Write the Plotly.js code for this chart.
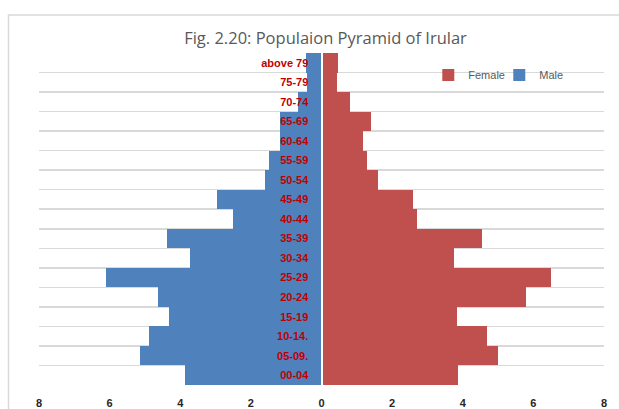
<!DOCTYPE html>
<html>
<head>
<meta charset="utf-8">
<script src="https://cdn.plot.ly/plotly-3.0.1.min.js"></script>
<style>html,body{margin:0;padding:0;background:#fff;}#chart{width:619px;height:409px;}</style>
</head>
<body>
<div id="chart"></div>
<script>
const ageGroups = ["00-04","05-09.","10-14.","15-19","20-24","25-29","30-34","35-39","40-44","45-49","50-54","55-59","60-64","65-69","70-74","75-79","above 79"];
const maleValues = [3.87,5.15,4.89,4.31,4.64,6.10,3.72,4.37,2.50,2.96,1.59,1.48,1.18,1.18,0.66,0.42,0.44];
const femaleValues = [3.86,4.99,4.70,3.83,5.78,6.49,3.75,4.55,2.71,2.60,1.61,1.29,1.18,1.40,0.81,0.44,0.48];
const xTickVals = [-8,-6,-4,-2,0,2,4,6,8];
const xTickText = ["8","6","4","2","0","2","4","6","8"];

const traces = [
  {type:'bar', orientation:'h', name:'Female', y:ageGroups, x:femaleValues,
   marker:{color:'#C0504D'}, hoverinfo:'none'},
  {type:'bar', orientation:'h', name:'Male', y:ageGroups, x:maleValues.map(v=>-v),
   marker:{color:'#4F81BD'}, hoverinfo:'none'}
];

const layout = {
  width:619, height:409,
  margin:{l:39, r:15, t:53, b:24, pad:0},
  paper_bgcolor:'#ffffff', plot_bgcolor:'#ffffff',
  barmode:'relative', bargap:0,
  showlegend:true,
  title:{text:'Fig. 2.20: Populaion Pyramid of Irular', font:{family:'Open Sans', size:16.5, color:'#595959'},
         x:325.5/619, xanchor:'center', xref:'container', y:1-38/409, yanchor:'middle', yref:'container'},
  legend:{orientation:'h', x:0.689, y:1-(75-53)/332, xanchor:'left', yanchor:'middle',
          font:{family:'Liberation Sans', size:11, color:'#595959'}, bgcolor:'rgba(0,0,0,0)',
          itemwidth:30, entrywidth:26, traceorder:'normal'},
  xaxis:{range:[-8,8], tickvals:xTickVals, ticktext:xTickText, showgrid:false, zeroline:false,
         showline:false, ticks:'outside', ticklen:8, tickcolor:'rgba(0,0,0,0)',
         tickfont:{family:'Liberation Sans', size:11, color:'#262626', weight:'bold'}, fixedrange:true},
  yaxis:{type:'category', categoryorder:'array', categoryarray:ageGroups, anchor:'free', position:0.5, side:'left',
         showgrid:true, gridcolor:'#d9d9d9', gridwidth:1.5, tickson:'boundaries', ticks:'',
         showline:true, linecolor:'#ffffff', linewidth:2, layer:'above traces',
         ticklabelstandoff:10, zeroline:false,
         tickfont:{family:'Liberation Sans', size:11, color:'#C00000', weight:'bold'}, fixedrange:true},
  shapes:[{type:'rect', xref:'paper', yref:'paper', x0:(8.5-39)/565, x1:(630-39)/565, y0:(385-420)/332, y1:1+(53-15)/332,
           line:{color:'#d9d9d9', width:1.5}, fillcolor:'rgba(0,0,0,0)', layer:'below'}]
};

Plotly.newPlot('chart', traces, layout, {displayModeBar:false, staticPlot:true});
</script>
</body>
</html>
